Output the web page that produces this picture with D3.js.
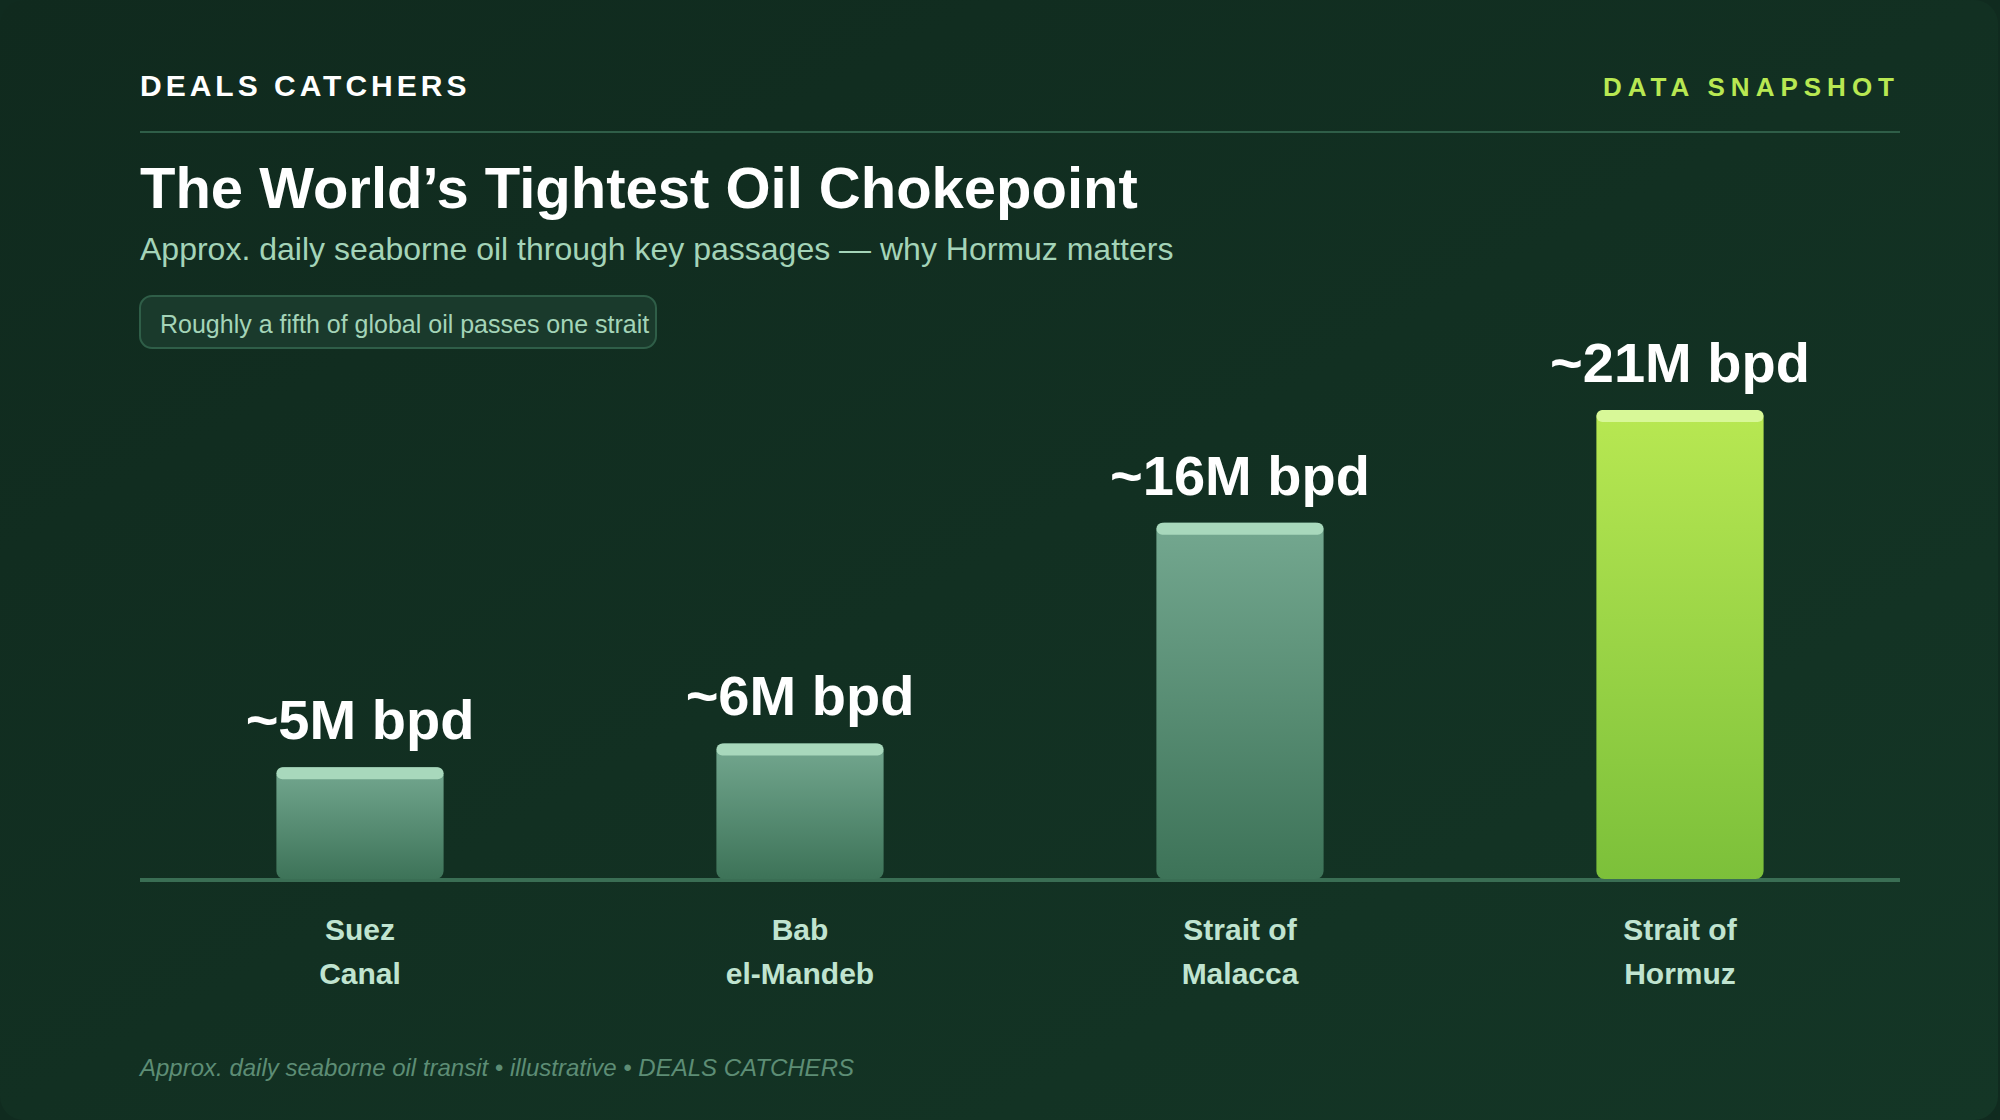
<!DOCTYPE html>
<html>
<head>
<meta charset="utf-8">
<script src="https://cdn.jsdelivr.net/npm/d3@7"></script>
<style>
html, body { margin: 0; padding: 0; background: #102a1e; }
svg { display: block; font-family: "Liberation Sans", Arial, sans-serif; }
</style>
</head>
<body>
<svg width="2000" height="1120"></svg>
<script>
// million barrels per day (labels round them)
const categories = ["Suez Canal", "Bab el-Mandeb", "Strait of Malacca", "Strait of Hormuz"];
const values = [5, 6.07, 15.95, 21];
const valueLabels = ["~5M bpd", "~6M bpd", "~16M bpd", "~21M bpd"];
const highlight = ["Strait of Hormuz"];

const width = 2000,
    height = 1120;
const margin = { left: 140, right: 100 };
const baseline = 879, topY = 410;

const svg = d3.select("svg");
const defs = svg.append("defs");

function gradient(id, stops, x2, y2) {
    const g = defs.append("linearGradient").attr("id", id)
        .attr("x1", 0).attr("y1", 0).attr("x2", x2).attr("y2", y2);
    stops.forEach((c, i) => g.append("stop")
        .attr("offset", i / (stops.length - 1))
        .attr("stop-color", c));
}
gradient("bg", ["#102a1e", "#143626"], 1, 1);
gradient("barMuted", ["#74a890", "#3d7358"], 0, 1);
gradient("barHot", ["#b8e852", "#7cc03a"], 0, 1);

svg.append("rect").attr("width", width).attr("height", height).attr("fill", "#102b1f");
svg.append("rect").attr("width", width - 2).attr("height", height).attr("rx", 24).attr("fill", "url(#bg)");

// header
svg.append("text").attr("x", 140).attr("y", 96)
    .attr("font-size", 30).attr("font-weight", 700).attr("letter-spacing", 4)
    .attr("fill", "#ffffff").text("DEALS CATCHERS");
svg.append("text").attr("x", 1900).attr("y", 96).attr("text-anchor", "end")
    .attr("font-size", 26).attr("font-weight", 700).attr("letter-spacing", 6)
    .attr("fill", "#b8e852").text("DATA SNAPSHOT");
svg.append("line").attr("x1", 140).attr("x2", 1900).attr("y1", 132).attr("y2", 132)
    .attr("stroke", "#2f5e48").attr("stroke-width", 2);

svg.append("text").attr("x", 140).attr("y", 208)
    .attr("font-size", 58).attr("font-weight", 700).attr("fill", "#ffffff")
    .text("The World’s Tightest Oil Chokepoint");
svg.append("text").attr("x", 140).attr("y", 260)
    .attr("font-size", 32).attr("fill", "#a4d4b8")
    .text("Approx. daily seaborne oil through key passages — why Hormuz matters");

// callout
svg.append("rect").attr("x", 140).attr("y", 296).attr("width", 516).attr("height", 52).attr("rx", 12)
    .attr("fill", "#1a3a2c").attr("stroke", "#2f5e48").attr("stroke-width", 2);
svg.append("text").attr("x", 160).attr("y", 333)
    .attr("font-size", 25).attr("fill", "#a4d4b8")
    .text("Roughly a fifth of global oil passes one strait");

// chart
const x = d3.scaleBand()
    .domain(categories)
    .range([margin.left, width - margin.right])
    .paddingInner(0.62)
    .paddingOuter(0.31);
const y = d3.scaleLinear()
    .domain([0, d3.max(values)])
    .range([baseline, topY]);

const xAxis = g => g
    .attr("transform", "translate(0," + (baseline + 1) + ")")
    .call(d3.axisBottom(x).tickSize(0).tickPadding(0).offset(0))
    .call(g => g.select(".domain").attr("stroke", "#3a6e54").attr("stroke-width", 4))
    .call(g => g.selectAll(".tick text").each(function (d) {
        // last word goes on the second line
        const words = d.split(" ");
        const first = words.slice(0, -1).join(" "), last = words[words.length - 1];
        const t = d3.select(this).text(null)
            .attr("y", null).attr("dy", null)
            .attr("font-family", "Liberation Sans").attr("font-size", 30)
            .attr("font-weight", 700).attr("fill", "#c0e4d0");
        t.append("tspan").attr("x", 0).attr("y", 60).text(first);
        t.append("tspan").attr("x", 0).attr("y", 104).text(last);
    }));
svg.append("g").call(xAxis);

const data = categories.map((c, i) => ({ name: c, value: values[i], label: valueLabels[i] }));
const isHot = d => highlight.includes(d.name);

const bars = svg.append("g").selectAll("g").data(data).join("g");
bars.append("rect")
    .attr("x", d => x(d.name))
    .attr("y", d => y(d.value))
    .attr("width", x.bandwidth())
    .attr("height", d => y(0) - y(d.value))
    .attr("rx", 8)
    .attr("fill", d => isHot(d) ? "url(#barHot)" : "url(#barMuted)");
bars.append("rect")
    .attr("x", d => x(d.name))
    .attr("y", d => y(d.value))
    .attr("width", x.bandwidth())
    .attr("height", 12)
    .attr("rx", 6)
    .attr("fill", d => isHot(d) ? "#d8f898" : "#a8d8bc");
bars.append("text")
    .attr("x", d => x(d.name) + x.bandwidth() / 2)
    .attr("y", d => y(d.value) - 28)
    .attr("text-anchor", "middle")
    .attr("font-size", 56).attr("font-weight", 700).attr("fill", "#ffffff")
    .text(d => d.label);

// footer
svg.append("text").attr("x", 140).attr("y", 1076)
    .attr("font-size", 24).attr("font-style", "italic").attr("fill", "#5d8d75")
    .text("Approx. daily seaborne oil transit • illustrative • DEALS CATCHERS");
</script>
</body>
</html>
